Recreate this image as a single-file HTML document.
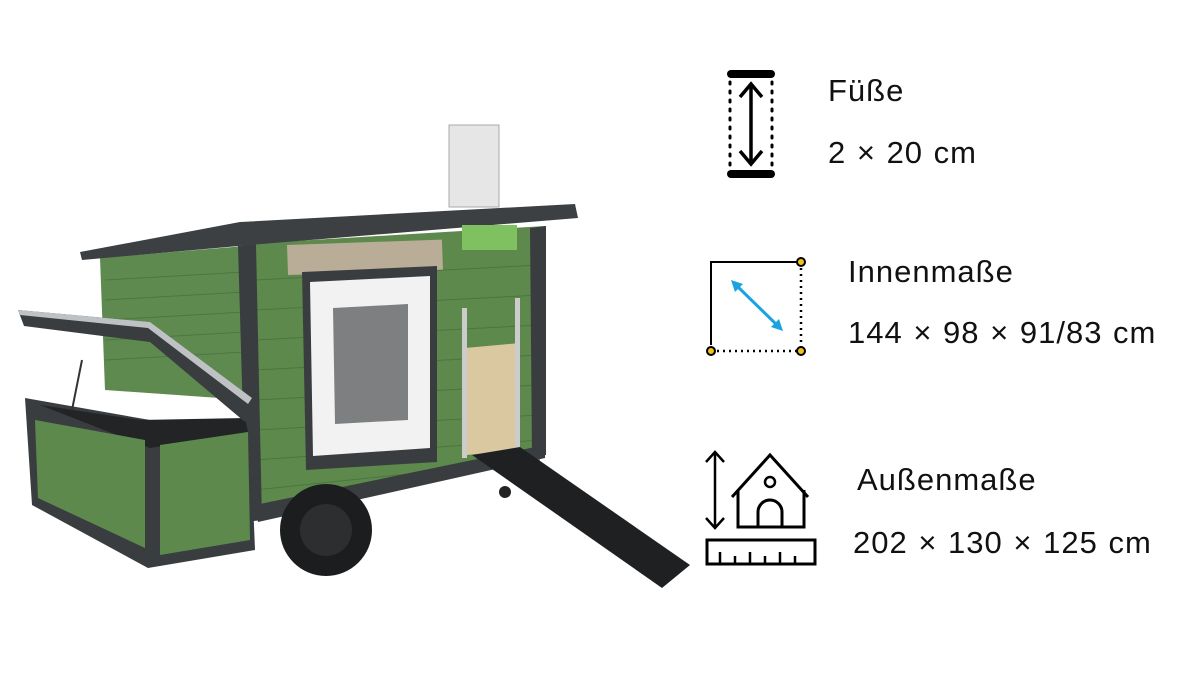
<!DOCTYPE html>
<html><head><meta charset="utf-8"><style>
html,body{margin:0;padding:0;background:#fff;}
.w{position:relative;width:1200px;height:675px;overflow:hidden;background:#fff;font-family:"Liberation Sans",sans-serif;color:#111;}
.t{position:absolute;font-size:31px;letter-spacing:1px;word-spacing:1px;white-space:nowrap;line-height:1;}
svg{position:absolute;left:0;top:0;}
</style></head><body><div class="w">
<svg width="1200" height="675" viewBox="0 0 1200 675">
<polygon points="100,258 245,246 248,400 105,390" fill="#5f8a4f"/>
<g stroke="#4e7640" stroke-width="1">
<line x1="105" y1="280" x2="245" y2="272"/><line x1="105" y1="300" x2="245" y2="292"/><line x1="105" y1="320" x2="245" y2="312"/><line x1="105" y1="340" x2="245" y2="332"/><line x1="105" y1="360" x2="245" y2="352"/>
</g>
<polygon points="245,244 545,226 545,455 255,520" fill="#5d8a4c"/>
<g stroke="#4c7540" stroke-width="1">
<line x1="255" y1="280" x2="540" y2="265"/><line x1="255" y1="310" x2="540" y2="295"/><line x1="255" y1="340" x2="540" y2="325"/><line x1="255" y1="370" x2="540" y2="355"/><line x1="255" y1="400" x2="540" y2="385"/><line x1="255" y1="430" x2="540" y2="415"/><line x1="255" y1="460" x2="540" y2="440"/><line x1="255" y1="490" x2="540" y2="460"/>
</g>
<polygon points="238,246 256,244 262,520 246,522" fill="#3a3d40"/>
<polygon points="530,228 546,226 546,455 532,458" fill="#3a3d40"/>
<polygon points="255,505 545,445 545,458 258,522" fill="#3a3d40"/>
<polygon points="80,252 240,222 575,204 578,218 250,245 82,260" fill="#3c4043"/>
<rect x="287" y="245" width="155" height="30" fill="#b9ad98" transform="rotate(-2 287 245)"/>
<polygon points="302,272 437,266 437,462 306,470" fill="#3a3d40"/>
<polygon points="310,282 430,276 430,448 313,456" fill="#f2f2f2"/>
<polygon points="333,308 408,304 408,420 335,424" fill="#7d7f80"/>
<polygon points="465,348 520,343 520,450 467,455" fill="#d9c8a0"/>
<rect x="462" y="308" width="5" height="150" fill="#ccc"/>
<rect x="515" y="298" width="5" height="150" fill="#ccc"/>
<rect x="449" y="125" width="50" height="82" fill="#e6e6e6" stroke="#aaa"/>
<rect x="462" y="225" width="55" height="25" fill="#7fc060"/>
<!-- nest box -->
<polygon points="25,398 150,420 250,428 255,550 148,568 32,505" fill="#3a3d40"/>
<polygon points="40,405 140,420 245,418 248,432 150,448" fill="#222426"/>
<polygon points="35,420 145,440 145,548 38,498" fill="#5d8a4c"/>
<polygon points="160,445 248,432 250,540 160,555" fill="#5d8a4c"/>
<!-- lid -->
<polygon points="18,310 150,322 252,398 245,422 150,342 24,326" fill="#3a3d40"/>
<polygon points="18,310 150,322 252,398 248,404 148,328 20,315" fill="#bfc2c4"/>
<line x1="82" y1="360" x2="72" y2="410" stroke="#333" stroke-width="2"/>
<circle cx="326" cy="530" r="46" fill="#1c1d1e"/>
<circle cx="326" cy="530" r="26" fill="#2c2e30"/>
<polygon points="472,455 520,447 690,565 662,588" fill="#1f2022"/>
<circle cx="505" cy="492" r="6" fill="#222"/>
<!-- icon 1 -->
<rect x="727" y="70" width="48" height="8" rx="4" fill="#000"/>
<rect x="727" y="170" width="48" height="8" rx="4" fill="#000"/>
<line x1="730" y1="82" x2="730" y2="168" stroke="#000" stroke-width="3" stroke-dasharray="2 7" stroke-linecap="round"/>
<line x1="772" y1="82" x2="772" y2="168" stroke="#000" stroke-width="3" stroke-dasharray="2 7" stroke-linecap="round"/>
<line x1="751" y1="84" x2="751" y2="164" stroke="#000" stroke-width="3.5"/>
<polyline points="740,97 751,84 762,97" fill="none" stroke="#000" stroke-width="3.5"/>
<polyline points="740,151 751,164 762,151" fill="none" stroke="#000" stroke-width="3.5"/>
<!-- icon 2 -->
<polyline points="711,345 711,262 797,262" fill="none" stroke="#000" stroke-width="2"/>
<line x1="801" y1="268" x2="801" y2="347" stroke="#000" stroke-width="2.5" stroke-dasharray="2 4"/>
<line x1="717" y1="351" x2="797" y2="351" stroke="#000" stroke-width="2.5" stroke-dasharray="2 4"/>
<circle cx="801" cy="262" r="4" fill="#f3c21a" stroke="#000" stroke-width="2"/>
<circle cx="711" cy="351" r="4" fill="#f3c21a" stroke="#000" stroke-width="2"/>
<circle cx="801" cy="351" r="4" fill="#f3c21a" stroke="#000" stroke-width="2"/>
<line x1="735" y1="284" x2="779" y2="327" stroke="#1aa3e0" stroke-width="3"/>
<polygon points="731,280 743,284 735,292" fill="#1aa3e0"/>
<polygon points="783,331 771,327 779,319" fill="#1aa3e0"/>
<!-- icon 3 -->
<line x1="715" y1="452" x2="715" y2="528" stroke="#000" stroke-width="2.5"/>
<polyline points="706,462 715,452 724,462" fill="none" stroke="#000" stroke-width="2.5"/>
<polyline points="706,518 715,528 724,518" fill="none" stroke="#000" stroke-width="2.5"/>
<polyline points="732,497 770,455 808,497" fill="none" stroke="#000" stroke-width="3"/>
<polyline points="738,490 738,527 804,527 804,490" fill="none" stroke="#000" stroke-width="3"/>
<path d="M758,527 V512 a12,12 0 0 1 24,0 V527" fill="none" stroke="#000" stroke-width="3"/>
<circle cx="770" cy="482" r="5" fill="none" stroke="#000" stroke-width="2.5"/>
<rect x="707" y="540" width="108" height="24" fill="none" stroke="#000" stroke-width="3"/>
<g stroke="#000" stroke-width="2.5"><line x1="720" y1="552" x2="720" y2="564"/><line x1="735" y1="556" x2="735" y2="564"/><line x1="750" y1="552" x2="750" y2="564"/><line x1="765" y1="556" x2="765" y2="564"/><line x1="780" y1="552" x2="780" y2="564"/><line x1="795" y1="556" x2="795" y2="564"/></g>
</svg>
<div class="t" style="left:828px;top:75px">Füße</div>
<div class="t" style="left:828px;top:137px">2 × 20 cm</div>
<div class="t" style="left:848px;top:256px">Innenmaße</div>
<div class="t" style="left:848px;top:317px">144 × 98 × 91/83 cm</div>
<div class="t" style="left:857px;top:464px">Außenmaße</div>
<div class="t" style="left:853px;top:527px">202 × 130 × 125 cm</div>
</div></body></html>
